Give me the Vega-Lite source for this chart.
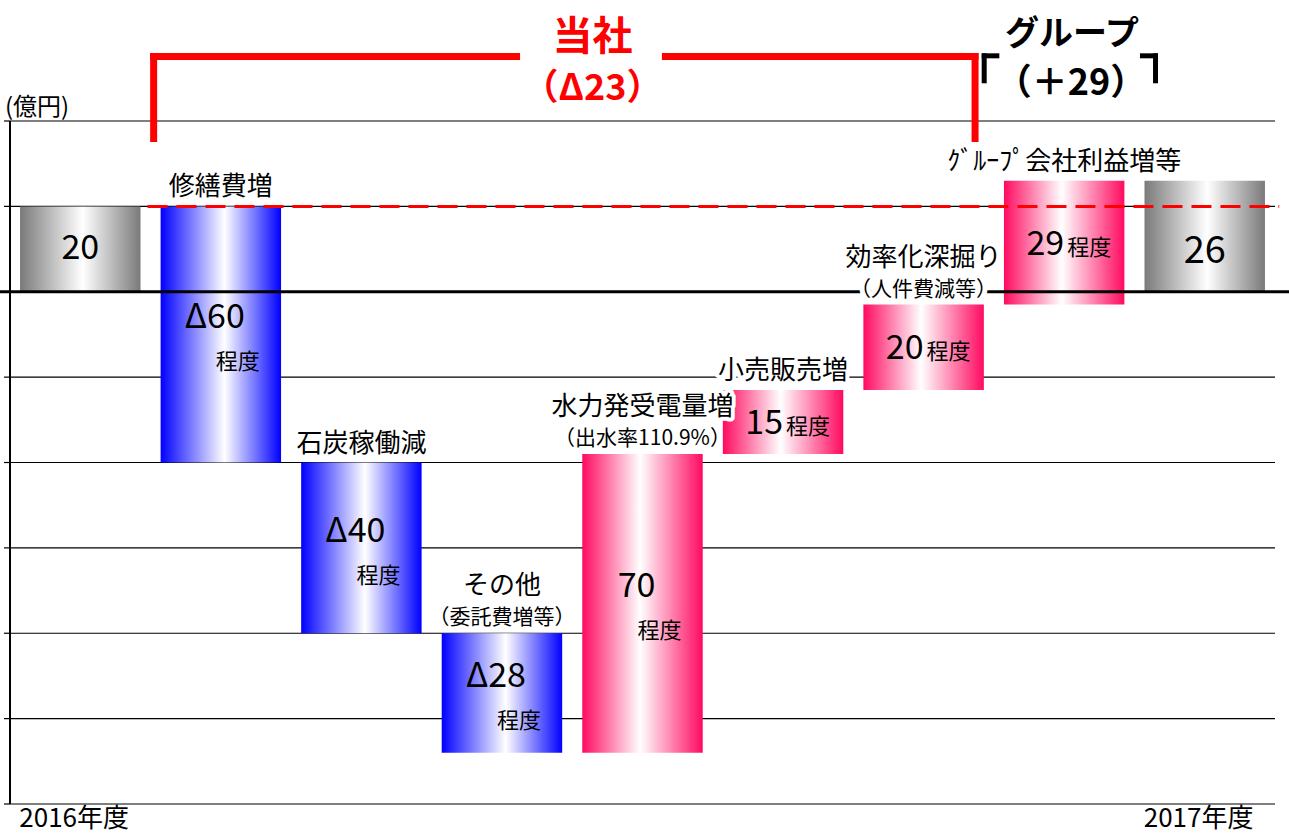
{
  "$schema": "https://vega.github.io/schema/vega-lite/v6.json",
  "width": 1265,
  "height": 683,
  "autosize": {"type": "none"},
  "padding": {"left": 10, "top": 121, "right": 14, "bottom": 30},
  "background": "white",
  "config": {
    "view": {"stroke": null},
    "font": "Noto Sans CJK JP",
    "text": {"font": "Noto Sans CJK JP"}
  },
  "datasets": {
    "steps": [
      {"item": "2016年度", "kind": "total", "start": 0, "end": 20, "num": "20", "unit": "", "title1": "", "title2": ""},
      {"item": "修繕費増", "kind": "down", "start": 20, "end": -40, "num": "Δ60", "unit": "程度", "title1": "修繕費増", "title2": ""},
      {"item": "石炭稼働減", "kind": "down", "start": -40, "end": -80, "num": "Δ40", "unit": "程度", "title1": "石炭稼働減", "title2": ""},
      {"item": "その他", "kind": "down", "start": -80, "end": -108, "num": "Δ28", "unit": "程度", "title1": "その他", "title2": "（委託費増等）"},
      {"item": "水力発受電量増", "kind": "up", "start": -108, "end": -38, "num": "70", "unit": "程度", "title1": "水力発受電量増", "title2": "（出水率110.9%）"},
      {"item": "小売販売増", "kind": "up", "start": -38, "end": -23, "num": "15", "unit": "程度", "title1": "小売販売増", "title2": ""},
      {"item": "効率化深掘り", "kind": "up", "start": -23, "end": -3, "num": "20", "unit": "程度", "title1": "効率化深掘り", "title2": "（人件費減等）"},
      {"item": "ｸﾞﾙｰﾌﾟ会社利益増等", "kind": "up", "start": -3, "end": 26, "num": "29", "unit": "程度", "title1": "ｸﾞﾙｰﾌﾟ会社利益増等", "title2": ""},
      {"item": "2017年度", "kind": "total", "start": 0, "end": 26, "num": "26", "unit": "", "title1": "", "title2": ""}
    ],
    "gridlines": [
      {"y": 40}, {"y": 20}, {"y": 0}, {"y": -20}, {"y": -40}, {"y": -60}, {"y": -80}, {"y": -100}, {"y": -120}
    ],
    "levels": [
      {"level": "2016年度実績", "y": 20, "x": 0.978, "x2": 9.03},
      {"level": "ゼロ", "y": 0, "x": -0.072, "x2": 9.1}
    ],
    "brackets": [
      {"bracket": "当社", "x": 1.022, "x2": 1.022, "y": 35.9, "y2": 55.11},
      {"bracket": "当社", "x": 1.022, "x2": 3.604, "y": 55.11, "y2": 55.11},
      {"bracket": "当社", "x": 4.663, "x2": 6.866, "y": 55.11, "y2": 55.11},
      {"bracket": "当社", "x": 6.866, "x2": 6.866, "y": 55.11, "y2": 35.9},
      {"bracket": "グループ", "x": 6.931, "x2": 6.931, "y": 49.42, "y2": 55.27},
      {"bracket": "グループ", "x": 6.931, "x2": 7.021, "y": 55.27, "y2": 55.27},
      {"bracket": "グループ", "x": 8.057, "x2": 8.15, "y": 55.27, "y2": 55.27},
      {"bracket": "グループ", "x": 8.15, "x2": 8.15, "y": 55.27, "y2": 49.42}
    ],
    "headlines": [
      {"text": "当社", "x": 4.144, "y": 59.56},
      {"text": "（Δ23）", "x": 4.144, "y": 47.5},
      {"text": "グループ", "x": 7.556, "y": 60.2},
      {"text": "（＋29）", "x": 7.549, "y": 48.6}
    ]
  },
  "resolve": {"scale": {"x": "independent"}},
  "layer": [
    {
      "data": {"name": "gridlines"},
      "mark": {"type": "rule", "color": "#000000", "strokeWidth": 1.2},
      "encoding": {
        "y": {"field": "y", "type": "quantitative", "scale": {"domain": [-120, 40], "nice": false, "zero": false}, "axis": null}
      }
    },
    {
      "data": {"name": "gridlines"},
      "mark": {"type": "rule", "color": "#000000", "strokeWidth": 1.2},
      "encoding": {
        "x": {"datum": -0.043, "type": "quantitative", "scale": {"domain": [0, 9], "nice": false, "zero": false}, "axis": null},
        "x2": {"datum": 0},
        "y": {"field": "y", "type": "quantitative", "scale": {"domain": [-120, 40], "nice": false, "zero": false}, "axis": null}
      }
    },
    {
      "data": {"name": "gridlines"},
      "transform": [{"aggregate": [{"op": "min", "field": "y", "as": "lo"}, {"op": "max", "field": "y", "as": "hi"}]}],
      "mark": {"type": "rule", "color": "#000000", "strokeWidth": 2},
      "encoding": {
        "x": {"datum": 0, "type": "quantitative", "scale": {"domain": [0, 9], "nice": false, "zero": false}, "axis": null},
        "y": {"field": "lo", "type": "quantitative", "scale": {"domain": [-120, 40], "nice": false, "zero": false}, "axis": null},
        "y2": {"field": "hi"}
      }
    },
    {
      "data": {"name": "gridlines"},
      "transform": [{"aggregate": [{"op": "max", "field": "y", "as": "hi"}]}],
      "mark": {"type": "text", "color": "#000000", "fontSize": 24, "align": "left", "baseline": "bottom", "dy": -1},
      "encoding": {
        "x": {"datum": -0.036, "type": "quantitative", "scale": {"domain": [0, 9], "nice": false, "zero": false}, "axis": null},
        "y": {"field": "hi", "type": "quantitative", "scale": {"domain": [-120, 40], "nice": false, "zero": false}, "axis": null},
        "text": {"value": "(億円)"}
      }
    },
    {
      "data": {"name": "steps"},
      "transform": [{"filter": "datum.kind == 'total'"}],
      "mark": {"type": "bar", "color": {"gradient": "linear", "x1": 0, "y1": 0, "x2": 1, "y2": 0, "stops": [{"offset": 0, "color": "#7a7a7a"}, {"offset": 0.52, "color": "#ffffff"}, {"offset": 1, "color": "#7a7a7a"}]}},
      "encoding": {
        "x": {
          "field": "item", "type": "nominal", "sort": null,
          "scale": {"domain": ["2016年度", "修繕費増", "石炭稼働減", "その他", "水力発受電量増", "小売販売増", "効率化深掘り", "ｸﾞﾙｰﾌﾟ会社利益増等", "2017年度"], "paddingInner": 0.143, "paddingOuter": 0.0715},
          "axis": {
            "domain": false, "ticks": false, "tickSize": 0, "grid": false, "title": null,
            "labelExpr": "indexof(datum.value, '年度') >= 0 ? datum.value : ''",
            "labelAlign": "left", "labelBaseline": "top", "labelOffset": -61, "labelPadding": 1,
            "labelFontSize": 26, "labelColor": "#000000", "labelFont": "Noto Sans CJK JP",
            "labelBound": false, "labelFlush": false, "labelOverlap": false, "labelAngle": 0
          }
        },
        "y": {"field": "start", "type": "quantitative", "scale": {"domain": [-120, 40], "nice": false, "zero": false}, "axis": null},
        "y2": {"field": "end"}
      }
    },
    {
      "data": {"name": "steps"},
      "transform": [{"filter": "datum.kind == 'down'"}],
      "mark": {"type": "bar", "color": {"gradient": "linear", "x1": 0, "y1": 0, "x2": 1, "y2": 0, "stops": [{"offset": 0, "color": "#0000ff"}, {"offset": 0.53, "color": "#ffffff"}, {"offset": 1, "color": "#0000ff"}]}},
      "encoding": {
        "x": {"field": "item", "type": "nominal", "sort": null, "scale": {"domain": ["2016年度", "修繕費増", "石炭稼働減", "その他", "水力発受電量増", "小売販売増", "効率化深掘り", "ｸﾞﾙｰﾌﾟ会社利益増等", "2017年度"], "paddingInner": 0.143, "paddingOuter": 0.0715}, "axis": null},
        "y": {"field": "start", "type": "quantitative", "scale": {"domain": [-120, 40], "nice": false, "zero": false}, "axis": null},
        "y2": {"field": "end"}
      }
    },
    {
      "data": {"name": "steps"},
      "transform": [{"filter": "datum.kind == 'up'"}],
      "mark": {"type": "bar", "color": {"gradient": "linear", "x1": 0, "y1": 0, "x2": 1, "y2": 0, "stops": [{"offset": 0, "color": "#ff0a60"}, {"offset": 0.48, "color": "#ffffff"}, {"offset": 1, "color": "#ff0a60"}]}},
      "encoding": {
        "x": {"field": "item", "type": "nominal", "sort": null, "scale": {"domain": ["2016年度", "修繕費増", "石炭稼働減", "その他", "水力発受電量増", "小売販売増", "効率化深掘り", "ｸﾞﾙｰﾌﾟ会社利益増等", "2017年度"], "paddingInner": 0.143, "paddingOuter": 0.0715}, "axis": null},
        "y": {"field": "start", "type": "quantitative", "scale": {"domain": [-120, 40], "nice": false, "zero": false}, "axis": null},
        "y2": {"field": "end"}
      }
    },
    {
      "data": {"name": "levels"},
      "transform": [{"filter": "datum.level == '2016年度実績'"}],
      "mark": {"type": "rule", "color": "#ff0000", "strokeWidth": 3, "strokeDash": [20, 9]},
      "encoding": {
        "x": {"field": "x", "type": "quantitative", "scale": {"domain": [0, 9], "nice": false, "zero": false}, "axis": null},
        "x2": {"field": "x2"},
        "y": {"field": "y", "type": "quantitative", "scale": {"domain": [-120, 40], "nice": false, "zero": false}, "axis": null}
      }
    },
    {
      "data": {"name": "levels"},
      "transform": [{"filter": "datum.level == 'ゼロ'"}],
      "mark": {"type": "rule", "color": "#000000", "strokeWidth": 3},
      "encoding": {
        "x": {"field": "x", "type": "quantitative", "scale": {"domain": [0, 9], "nice": false, "zero": false}, "axis": null},
        "x2": {"field": "x2"},
        "y": {"field": "y", "type": "quantitative", "scale": {"domain": [-120, 40], "nice": false, "zero": false}, "axis": null}
      }
    },
    {
      "data": {"name": "brackets"},
      "transform": [{"filter": "datum.bracket == '当社'"}],
      "mark": {"type": "rule", "color": "#ff0000", "strokeWidth": 7, "strokeCap": "square"},
      "encoding": {
        "x": {"field": "x", "type": "quantitative", "scale": {"domain": [0, 9], "nice": false, "zero": false}, "axis": null},
        "x2": {"field": "x2"},
        "y": {"field": "y", "type": "quantitative", "scale": {"domain": [-120, 40], "nice": false, "zero": false}, "axis": null},
        "y2": {"field": "y2"}
      }
    },
    {
      "data": {"name": "brackets"},
      "transform": [{"filter": "datum.bracket == 'グループ'"}],
      "mark": {"type": "rule", "color": "#000000", "strokeWidth": 5, "strokeCap": "square"},
      "encoding": {
        "x": {"field": "x", "type": "quantitative", "scale": {"domain": [0, 9], "nice": false, "zero": false}, "axis": null},
        "x2": {"field": "x2"},
        "y": {"field": "y", "type": "quantitative", "scale": {"domain": [-120, 40], "nice": false, "zero": false}, "axis": null},
        "y2": {"field": "y2"}
      }
    },
    {
      "data": {"name": "headlines"},
      "transform": [{"filter": "datum.text == '当社'"}],
      "mark": {"type": "text", "color": "#ff0000", "fontSize": 40, "fontWeight": "bold", "baseline": "middle", "align": "center"},
      "encoding": {
        "x": {"field": "x", "type": "quantitative", "scale": {"domain": [0, 9], "nice": false, "zero": false}, "axis": null},
        "y": {"field": "y", "type": "quantitative", "scale": {"domain": [-120, 40], "nice": false, "zero": false}, "axis": null},
        "text": {"field": "text"}
      }
    },
    {
      "data": {"name": "headlines"},
      "transform": [{"filter": "datum.text == '（Δ23）'"}],
      "mark": {"type": "text", "color": "#ff0000", "fontSize": 36, "fontWeight": "bold", "baseline": "middle", "align": "center"},
      "encoding": {
        "x": {"field": "x", "type": "quantitative", "scale": {"domain": [0, 9], "nice": false, "zero": false}, "axis": null},
        "y": {"field": "y", "type": "quantitative", "scale": {"domain": [-120, 40], "nice": false, "zero": false}, "axis": null},
        "text": {"field": "text"}
      }
    },
    {
      "data": {"name": "headlines"},
      "transform": [{"filter": "datum.text == 'グループ'"}],
      "mark": {"type": "text", "color": "#000000", "fontSize": 34, "fontWeight": "bold", "baseline": "middle", "align": "center"},
      "encoding": {
        "x": {"field": "x", "type": "quantitative", "scale": {"domain": [0, 9], "nice": false, "zero": false}, "axis": null},
        "y": {"field": "y", "type": "quantitative", "scale": {"domain": [-120, 40], "nice": false, "zero": false}, "axis": null},
        "text": {"field": "text"}
      }
    },
    {
      "data": {"name": "headlines"},
      "transform": [{"filter": "datum.text == '（＋29）'"}],
      "mark": {"type": "text", "color": "#000000", "fontSize": 36, "fontWeight": "bold", "baseline": "middle", "align": "center"},
      "encoding": {
        "x": {"field": "x", "type": "quantitative", "scale": {"domain": [0, 9], "nice": false, "zero": false}, "axis": null},
        "y": {"field": "y", "type": "quantitative", "scale": {"domain": [-120, 40], "nice": false, "zero": false}, "axis": null},
        "text": {"field": "text"}
      }
    },
    {
      "data": {"name": "steps"},
      "transform": [
        {"calculate": "(datum.start + datum.end) / 2", "as": "mid"},
        {"calculate": "max(datum.start, datum.end)", "as": "top"}
      ],
      "encoding": {
        "x": {"field": "item", "type": "nominal", "sort": null, "scale": {"domain": ["2016年度", "修繕費増", "石炭稼働減", "その他", "水力発受電量増", "小売販売増", "効率化深掘り", "ｸﾞﾙｰﾌﾟ会社利益増等", "2017年度"], "paddingInner": 0.143, "paddingOuter": 0.0715}, "axis": null}
      },
      "layer": [
        {
          "transform": [{"filter": "datum.item == '2016年度'"}],
          "mark": {"type": "text", "color": "#000000", "fontSize": 34, "baseline": "middle", "align": "center"},
          "encoding": {"y": {"field": "mid", "type": "quantitative", "scale": {"domain": [-120, 40], "nice": false, "zero": false}, "axis": null}, "text": {"field": "num"}}
        },
        {
          "transform": [{"filter": "datum.item == '2017年度'"}],
          "mark": {"type": "text", "color": "#000000", "fontSize": 38, "baseline": "middle", "align": "center", "dy": 16},
          "encoding": {"y": {"field": "mid", "type": "quantitative", "scale": {"domain": [-120, 40], "nice": false, "zero": false}, "axis": null}, "text": {"field": "num"}}
        },
        {
          "transform": [{"filter": {"field": "item", "oneOf": ["修繕費増", "石炭稼働減", "その他", "水力発受電量増"]}}],
          "mark": {"type": "text", "color": "#000000", "fontSize": 34, "baseline": "middle", "align": "center", "dx": -6, "dy": -16},
          "encoding": {"y": {"field": "mid", "type": "quantitative", "scale": {"domain": [-120, 40], "nice": false, "zero": false}, "axis": null}, "text": {"field": "num"}}
        },
        {
          "transform": [{"filter": {"field": "item", "oneOf": ["修繕費増", "石炭稼働減", "その他", "水力発受電量増"]}}],
          "mark": {"type": "text", "color": "#000000", "fontSize": 22, "baseline": "middle", "align": "center", "dx": 17, "dy": 28},
          "encoding": {"y": {"field": "mid", "type": "quantitative", "scale": {"domain": [-120, 40], "nice": false, "zero": false}, "axis": null}, "text": {"field": "unit"}}
        },
        {
          "transform": [{"filter": {"field": "item", "oneOf": ["小売販売増", "効率化深掘り", "ｸﾞﾙｰﾌﾟ会社利益増等"]}}],
          "mark": {"type": "text", "color": "#000000", "fontSize": 34, "baseline": "alphabetic", "align": "right", "dx": 0, "dy": 12},
          "encoding": {"y": {"field": "mid", "type": "quantitative", "scale": {"domain": [-120, 40], "nice": false, "zero": false}, "axis": null}, "text": {"field": "num"}}
        },
        {
          "transform": [{"filter": {"field": "item", "oneOf": ["小売販売増", "効率化深掘り", "ｸﾞﾙｰﾌﾟ会社利益増等"]}}],
          "mark": {"type": "text", "color": "#000000", "fontSize": 22, "baseline": "alphabetic", "align": "left", "dx": 3, "dy": 12},
          "encoding": {"y": {"field": "mid", "type": "quantitative", "scale": {"domain": [-120, 40], "nice": false, "zero": false}, "axis": null}, "text": {"field": "unit"}}
        },
        {
          "transform": [{"filter": "datum.title1 != '' && datum.title2 == ''"}],
          "mark": {"type": "text", "color": "#ffffff", "stroke": "#ffffff", "strokeWidth": 8, "strokeJoin": "round", "fontSize": 26, "baseline": "middle", "align": "center", "dy": -19},
          "encoding": {"y": {"field": "top", "type": "quantitative", "scale": {"domain": [-120, 40], "nice": false, "zero": false}, "axis": null}, "text": {"field": "title1"}}
        },
        {
          "transform": [{"filter": "datum.title2 != ''"}],
          "mark": {"type": "text", "color": "#ffffff", "stroke": "#ffffff", "strokeWidth": 8, "strokeJoin": "round", "fontSize": 26, "baseline": "middle", "align": "center", "dy": -47},
          "encoding": {"y": {"field": "top", "type": "quantitative", "scale": {"domain": [-120, 40], "nice": false, "zero": false}, "axis": null}, "text": {"field": "title1"}}
        },
        {
          "transform": [{"filter": "datum.title2 != ''"}],
          "mark": {"type": "text", "color": "#ffffff", "stroke": "#ffffff", "strokeWidth": 10, "strokeJoin": "round", "fontSize": 21, "baseline": "middle", "align": "center", "dy": -15},
          "encoding": {"y": {"field": "top", "type": "quantitative", "scale": {"domain": [-120, 40], "nice": false, "zero": false}, "axis": null}, "text": {"field": "title2"}}
        },
        {
          "transform": [{"filter": "datum.title1 != '' && datum.title2 == ''"}],
          "mark": {"type": "text", "color": "#000000", "fontSize": 26, "baseline": "middle", "align": "center", "dy": -19},
          "encoding": {"y": {"field": "top", "type": "quantitative", "scale": {"domain": [-120, 40], "nice": false, "zero": false}, "axis": null}, "text": {"field": "title1"}}
        },
        {
          "transform": [{"filter": "datum.title2 != ''"}],
          "mark": {"type": "text", "color": "#000000", "fontSize": 26, "baseline": "middle", "align": "center", "dy": -47},
          "encoding": {"y": {"field": "top", "type": "quantitative", "scale": {"domain": [-120, 40], "nice": false, "zero": false}, "axis": null}, "text": {"field": "title1"}}
        },
        {
          "transform": [{"filter": "datum.title2 != ''"}],
          "mark": {"type": "text", "color": "#000000", "fontSize": 21, "baseline": "middle", "align": "center", "dy": -15},
          "encoding": {"y": {"field": "top", "type": "quantitative", "scale": {"domain": [-120, 40], "nice": false, "zero": false}, "axis": null}, "text": {"field": "title2"}}
        }
      ]
    }
  ]
}
